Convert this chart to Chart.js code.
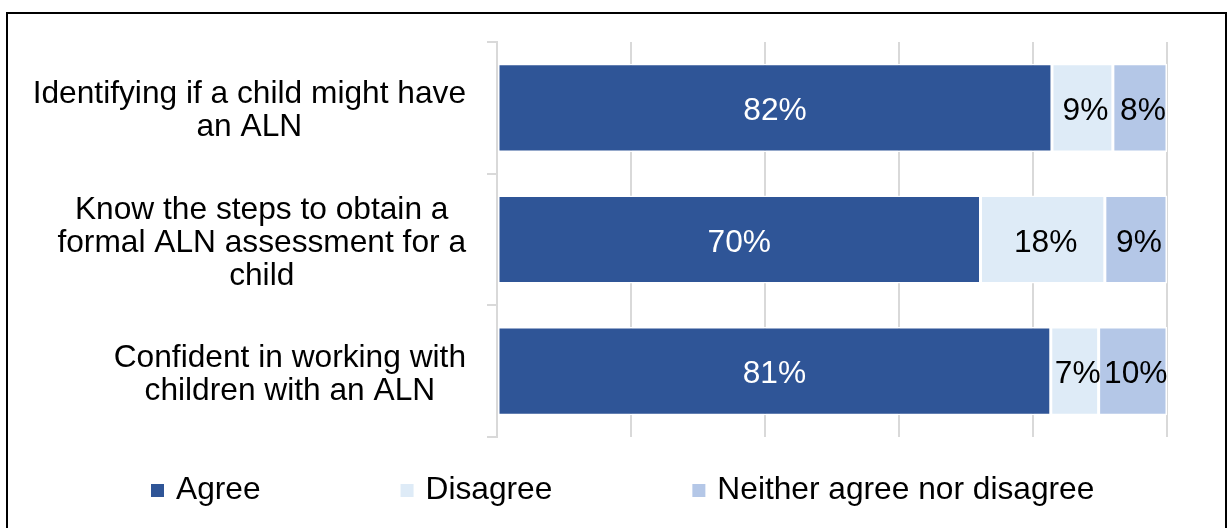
<!DOCTYPE html>
<html><head><meta charset="utf-8">
<script src="https://cdn.jsdelivr.net/npm/chart.js@4.4.1/dist/chart.umd.min.js"></script>
<style>
html,body{margin:0;padding:0;background:#fff;overflow:hidden;}
#wrap{position:relative;width:1230px;height:528px;overflow:hidden;background:#fff;}
#frame{position:absolute;left:6px;top:12px;width:1221px;height:540px;border:2px solid #000;box-sizing:border-box;pointer-events:none;}
canvas{position:absolute;left:0;top:0;}
</style></head><body>
<div id="wrap"><canvas id="c" width="1230" height="528"></canvas><div id="frame"></div></div>
<script>
// ---- data ----
const categories = [
  ["Identifying if a child might have", "an ALN"],
  ["Know the steps to obtain a", "formal ALN assessment for a", "child"],
  ["Confident in working with", "children with an ALN"]
];
const seriesNames = ["Agree", "Disagree", "Neither agree nor disagree"];
const agree = [82, 70, 81];
const disagree = [9, 18, 7];
const neither = [8, 9, 10];
const xTicks = [0, 20, 40, 60, 80, 100];

// ---- styles ----
const FONT = '"Liberation Sans", Arial, sans-serif';
const FSIZE = "31.7px ";
const colors = ["#2F5597", "#DEEBF7", "#B4C7E7"];
const labelColors = ["#ffffff", "#000000", "#000000"];

const seriesValues = [agree, disagree, neither];
const totals = categories.map((_, i) => agree[i] + disagree[i] + neither[i]);

const datasets = seriesValues.map((vals, k) => ({
  label: seriesNames[k],
  data: vals.map((v, i) => v / totals[i] * 100),
  rawValues: vals,
  backgroundColor: colors[k],
  borderColor: "#ffffff",
  borderWidth: 1.5,
  borderSkipped: false,
  inflateAmount: 0,
  barPercentage: 0.67,
  categoryPercentage: 1,
  labelColor: labelColors[k]
}));

const valueLabels = {
  id: "valueLabels",
  afterDatasetsDraw(chart) {
    const ctx = chart.ctx;
    ctx.save();
    ctx.font = FSIZE + FONT;
    ctx.textAlign = "center";
    ctx.textBaseline = "alphabetic";
    chart.data.datasets.forEach((ds, k) => {
      const meta = chart.getDatasetMeta(k);
      meta.data.forEach((el, i) => {
        const cx = (el.x + el.base) / 2 + (k > 0 ? 3 : 0);
        ctx.fillStyle = ds.labelColor;
        ctx.fillText(ds.rawValues[i] + "%", cx, el.y + 12);
      });
    });
    ctx.restore();
  }
};

const catLabels = {
  id: "catLabels",
  afterDraw(chart) {
    const ctx = chart.ctx;
    const ys = chart.scales.y;
    const right = 466;
    const lh = 33;
    ctx.save();
    ctx.font = FSIZE + FONT;
    ctx.fillStyle = "#000";
    ctx.textAlign = "center";
    ctx.textBaseline = "alphabetic";
    chart.data.labels.forEach((lines, i) => {
      const c = ys.getPixelForTick(i);
      const w = Math.max(...lines.map(l => ctx.measureText(l).width));
      const cx = right - w / 2;
      const n = lines.length;
      lines.forEach((l, j) => {
        ctx.fillText(l, cx, c + (j - (n - 1) / 2) * lh + 12);
      });
    });
    ctx.restore();
  }
};

const customLegend = {
  id: "customLegend",
  afterDraw(chart) {
    const ctx = chart.ctx;
    ctx.save();
    ctx.font = FSIZE + FONT;
    ctx.textBaseline = "alphabetic";
    ctx.textAlign = "left";
    let x = 151;
    const box = 13, gapText = 12, gapItem = 140;
    const boxTop = 484, baseline = 498.5;
    chart.data.datasets.forEach(ds => {
      ctx.fillStyle = ds.backgroundColor;
      ctx.fillRect(x, boxTop, box, box);
      ctx.fillStyle = "#000";
      ctx.fillText(ds.label, x + box + gapText, baseline);
      x += box + gapText + ctx.measureText(ds.label).width + gapItem;
    });
    ctx.restore();
  }
};

new Chart(document.getElementById("c"), {
  type: "bar",
  data: { labels: categories, datasets },
  plugins: [valueLabels, catLabels, customLegend],
  options: {
    indexAxis: "y",
    responsive: false,
    animation: false,
    devicePixelRatio: 1,
    layout: { padding: { left: 0, right: 63, top: 42, bottom: 91 } },
    plugins: { legend: { display: false }, tooltip: { enabled: false } },
    scales: {
      x: {
        type: "linear", stacked: true, min: 0, max: 100, position: "bottom",
        afterBuildTicks: s => { s.ticks = xTicks.map(v => ({ value: v })); },
        ticks: { display: false },
        grid: { color: "#d9d9d9", lineWidth: 2, drawTicks: false },
        border: { display: false },
        afterFit: s => { s.height = 0; }
      },
      y: {
        type: "category", stacked: true, position: "left",
        ticks: { display: false },
        grid: { display: true, drawOnChartArea: false, drawTicks: true, tickLength: 10, offset: true, color: "#d9d9d9", lineWidth: 2 },
        border: { display: true, color: "#d9d9d9", width: 2 },
        afterFit: s => { s.width = 497; }
      }
    }
  }
});
</script>
</body></html>
